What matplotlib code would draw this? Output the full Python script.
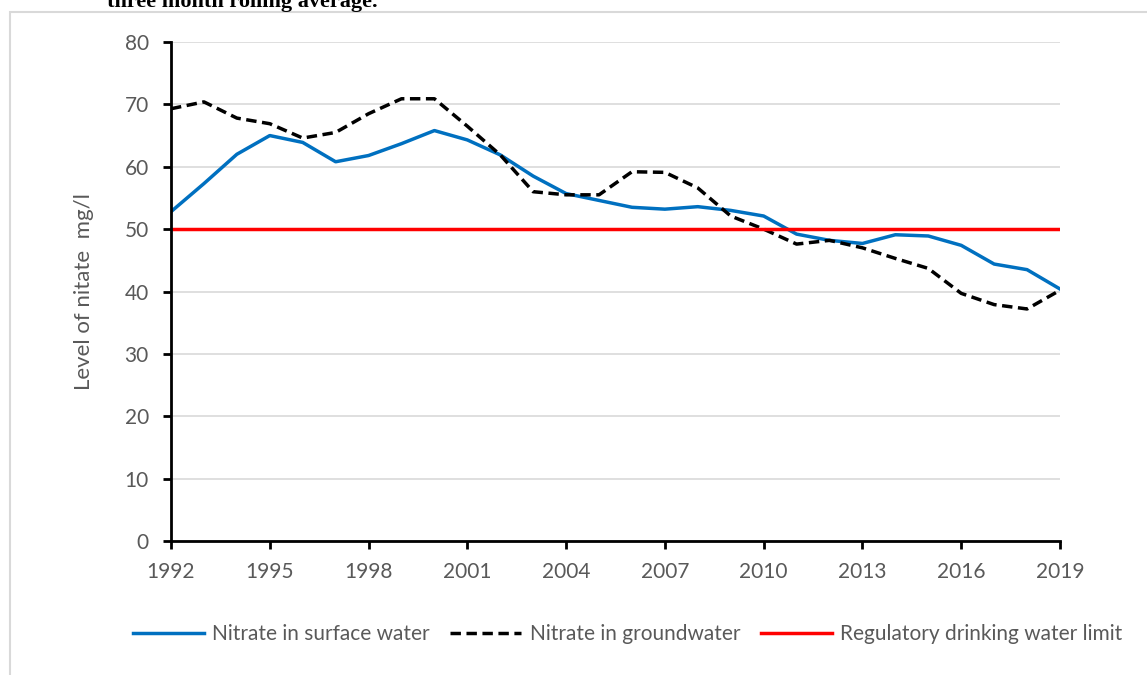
import matplotlib.pyplot as plt
from matplotlib.patches import Rectangle

years = list(range(1992, 2020))
surface = [52.8, 57.3, 62.0, 65.0, 63.9, 60.8, 61.8, 63.7, 65.8, 64.3,
           61.9, 58.5, 55.7, 54.6, 53.5, 53.2, 53.6, 53.0, 52.1, 49.2,
           48.2, 47.7, 49.1, 48.9, 47.4, 44.4, 43.5, 40.4]
ground = [69.3, 70.4, 67.8, 66.9, 64.6, 65.5, 68.5, 70.9, 70.9, 66.5,
          61.9, 56.0, 55.5, 55.5, 59.2, 59.1, 56.6, 52.1, 50.0, 47.6,
          48.2, 47.0, 45.3, 43.7, 39.7, 37.9, 37.2, 40.2]
limit = 50
xticks = list(range(1992, 2020, 3))
yticks = list(range(0, 81, 10))

grey = '#595959'
plt.rcParams['font.family'] = ['Lato', 'DejaVu Sans']

fig = plt.figure(figsize=(11.47, 6.75), dpi=100)

# outer chart frame (only left and top visible)
fig.patches.append(Rectangle((10/1147, -0.1), 1.2, 1 - 12/675 + 0.1,
                             transform=fig.transFigure, fill=False,
                             edgecolor='#d9d9d9', linewidth=1.5))
fig.text(107/1147, 1 - 7/675, 'three month rolling average.',
         family='Liberation Serif', fontweight='bold', fontsize=16,
         va='baseline', ha='left')

ax = fig.add_axes([171/1147, 1 - 541/675, (1060 - 171)/1147, (541 - 42)/675])

ax.plot(years, surface, color='#0070c0', lw=2.5, label='Nitrate in surface water')
ax.plot(years, ground, color='black', lw=2.5, ls=(0, (3, 1.6)), label='Nitrate in groundwater')
ax.plot([years[0], years[-1]], [limit, limit], color='#ff0000', lw=2.5,
        label='Regulatory drinking water limit')

ax.set_xlim(1992, 2019)
ax.set_ylim(0, 80)
ax.set_xticks(xticks)
ax.set_yticks(yticks)
ax.grid(axis='y', color='#d9d9d9', lw=1.2)
ax.set_axisbelow(True)
for s in ['top', 'right']:
    ax.spines[s].set_visible(False)
for s in ['left', 'bottom']:
    ax.spines[s].set_linewidth(2)
ax.tick_params(length=6, width=2, labelsize=15, labelcolor=grey)
ax.tick_params(axis='x', pad=9)
ax.tick_params(axis='y', pad=10)
ax.set_ylabel('Level of nitate  mg/l', fontsize=16, color=grey, labelpad=22)

ax.legend(loc='center', bbox_to_anchor=(0.5135, -0.186), ncol=3, frameon=False,
          fontsize=15, labelcolor=grey, handlelength=3.4, columnspacing=1.0,
          handletextpad=0.4)

fig.savefig('out.png', dpi=100)
